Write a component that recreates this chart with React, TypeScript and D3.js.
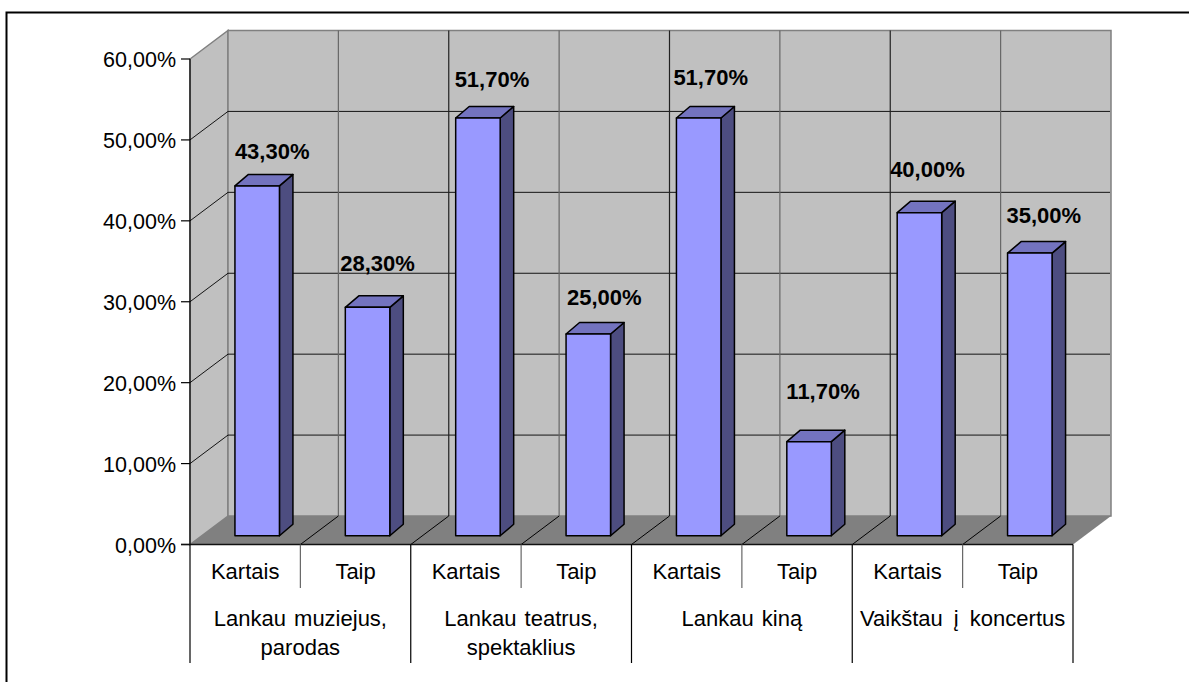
import React from "react";
import * as d3 from "d3";

const groups = ["Lankau muziejus, parodas", "Lankau teatrus, spektaklius", "Lankau kiną", "Vaikštau į koncertus"];
const groupLines = [["Lankau muziejus,", "parodas"], ["Lankau teatrus,", "spektaklius"], ["Lankau kiną"], ["Vaikštau į koncertus"]];
const answers = ["Kartais", "Taip", "Kartais", "Taip", "Kartais", "Taip", "Kartais", "Taip"];
const values = [43.3, 28.3, 51.7, 25.0, 51.7, 11.7, 40.0, 35.0];
const valueLabels = ["43,30%", "28,30%", "51,70%", "25,00%", "51,70%", "11,70%", "40,00%", "35,00%"];
const ticks = [0, 10, 20, 30, 40, 50, 60];
const tickLabels = ["0,00%", "10,00%", "20,00%", "30,00%", "40,00%", "50,00%", "60,00%"];

const FONT = "'Liberation Sans', Arial, sans-serif";
const labelNudgeX = [0, -5, -1, 1, -3, -1, -7, -1];
const labelNudgeY = [-7, -17, -11, -9, -13, -23, -16, -10];
const groupWordSpacing = [2, 2, 2, 5];

export default function App() {
  const left = 190, right = 1073, y0 = 544.5, y60 = 59;
  const dx = 38, dy = 28.5;
  const x = d3.scaleLinear().domain([0, 8]).range([left, right]);
  const y = d3.scaleLinear().domain([0, 60]).range([y0, y60]);
  const bw = 44.5, bdx = 13.5, bdy = 11.5;
  const barOffX = 12, barOffY = 8.7;
  const wallTop = y60 - dy;
  const floorBack = y0 - dy;
  const poly = (pts: number[][]) => pts.map((p) => p.join(",")).join(" ");

  return (
    <svg width={1189} height={682} style={{ position: "absolute", left: 0, top: 0, display: "block", background: "#fff" }} fontFamily={FONT}>
      {/* outer frame */}
      <path d="M6.5,682 V12.5 H1189" fill="none" stroke="#000" strokeWidth={2} />

      {/* side wall */}
      <polygon points={poly([[left, y0], [left + dx, floorBack], [left + dx, wallTop], [left, y60]])} fill="#c0c0c0" stroke="#808080" strokeWidth={1.5} />
      {/* back wall */}
      <polygon points={poly([[left + dx, floorBack], [right + dx, floorBack], [right + dx, wallTop], [left + dx, wallTop]])} fill="#c0c0c0" stroke="#808080" strokeWidth={1.5} />
      {/* floor */}
      <polygon points={poly([[left, y0], [left + dx, floorBack], [right + dx, floorBack], [right, y0]])} fill="#808080" />

      {/* horizontal gridlines */}
      {ticks.slice(1, -1).map((t) => (
        <g key={t} stroke="#000" strokeWidth={1} fill="none" opacity={0.9}>
          <polyline points={poly([[left, y(t)], [left + dx, y(t) - dy], [right + dx - 1, y(t) - dy]])} />
        </g>
      ))}
      {/* vertical gridlines on the back wall */}
      {d3.range(1, 8).map((i) => (
        <g key={i}>
          <line x1={x(i) + dx} x2={x(i) + dx} y1={wallTop} y2={floorBack} stroke={i % 2 === 0 ? "#222" : "#666"} strokeWidth={1.2} />
          <line x1={x(i)} x2={x(i) + dx} y1={y0} y2={floorBack} stroke="#000" strokeWidth={1} />
        </g>
      ))}

      {/* bars */}
      {values.map((v, i) => {
        const cx = (x(i) + x(i + 1)) / 2 + barOffX;
        const xl = cx - bw / 2, xr = cx + bw / 2;
        const yb = y0 - barOffY;
        const yt = yb - (y0 - y(v)) + 0.5;
        return (
          <g key={i} stroke="#000" strokeWidth={1.5} strokeLinejoin="round">
            <polygon points={poly([[xr, yt], [xr + bdx, yt - bdy], [xr + bdx, yb - bdy], [xr, yb]])} fill="#4d4d80" />
            <polygon points={poly([[xl, yt], [xl + bdx, yt - bdy], [xr + bdx, yt - bdy], [xr, yt]])} fill="#7373bf" />
            <rect x={xl} y={yt} width={bw} height={yb - yt} fill="#9999ff" />
          </g>
        );
      })}

      {/* value labels */}
      {values.map((v, i) => (
        <text key={i} x={(x(i) + x(i + 1)) / 2 + 27 + labelNudgeX[i]} y={y(v) - 28 + labelNudgeY[i]} textAnchor="middle" fontSize={22} fontWeight={700} fill="#000">
          {valueLabels[i]}
        </text>
      ))}

      {/* value axis */}
      <line x1={left} x2={left} y1={y60} y2={y0} stroke="#000" strokeWidth={1.2} />
      {ticks.map((t, i) => (
        <g key={t}>
          <line x1={left - 9} x2={left} y1={y(t)} y2={y(t)} stroke="#000" strokeWidth={1.2} />
          <text x={176} y={y(t) + 8} textAnchor="end" fontSize={21.5} fill="#000">{tickLabels[i]}</text>
        </g>
      ))}

      {/* category axis */}
      <line x1={left - 9} x2={right} y1={y0} y2={y0} stroke="#111" strokeWidth={1.6} />
      {d3.range(0, 9).map((i) => {
        const major = i % 2 === 0;
        return <line key={i} x1={x(i)} x2={x(i)} y1={y0} y2={major ? 663 : 588} stroke={major ? "#000" : "#666"} strokeWidth={1.2} />;
      })}
      {answers.map((a, i) => (
        <text key={i} x={(x(i) + x(i + 1)) / 2} y={579} textAnchor="middle" fontSize={22} fill="#000">{a}</text>
      ))}
      {groups.map((g, i) => (
        <text key={g} x={(x(i * 2) + x(i * 2 + 2)) / 2} textAnchor="middle" fontSize={22} wordSpacing={groupWordSpacing[i]} fill="#000">
          {groupLines[i].map((l, j) => (
            <tspan key={j} x={(x(i * 2) + x(i * 2 + 2)) / 2} y={626 + j * 29}>{l}</tspan>
          ))}
        </text>
      ))}
    </svg>
  );
}
